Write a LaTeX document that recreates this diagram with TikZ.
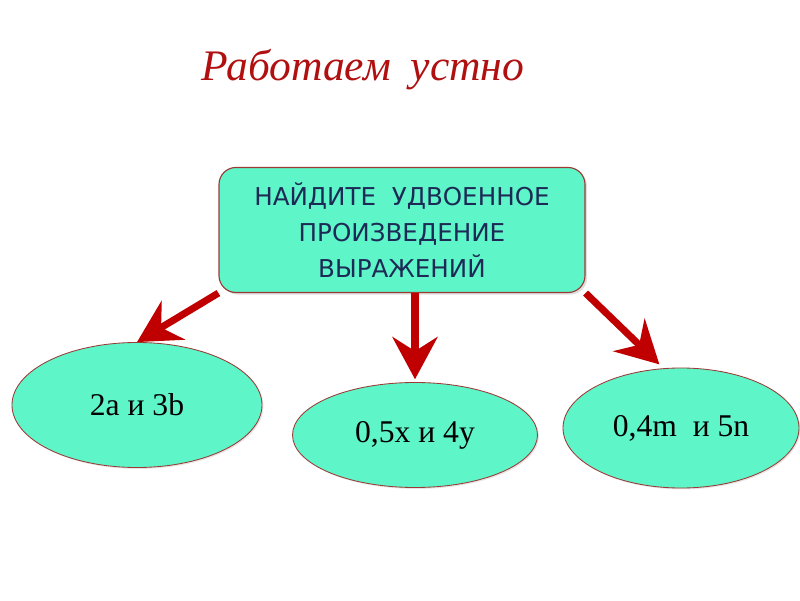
\documentclass[tikz,border=0pt]{standalone}
\usepackage{fontspec}
\setmainfont{Liberation Serif}
\newfontfamily\boxfont{DejaVu Sans}
\usetikzlibrary{shapes.geometric,arrows.meta,shadows}
\definecolor{mint}{HTML}{5EF5C8}
\definecolor{darkred}{HTML}{B01010}
\definecolor{arrowred}{HTML}{C00000}
\definecolor{rimred}{HTML}{9A3A36}
\definecolor{navy}{HTML}{1C2A55}
\tikzset{
  taskbox/.style={shape=rectangle,rounded corners=12pt,draw=rimred,line width=0.8pt,
    fill=mint,minimum width=9.15cm,minimum height=3.125cm,align=center,
    font=\boxfont\fontsize{17.5}{25.5}\selectfont,text=navy,
    drop shadow={opacity=0.25,shadow xshift=1.5pt,shadow yshift=-1.5pt}},
  pairoval/.style={shape=ellipse,draw=rimred,line width=0.6pt,fill=mint,inner sep=0pt,
    font=\fontsize{22.5}{26}\selectfont,
    drop shadow={opacity=0.2,shadow xshift=1pt,shadow yshift=-1pt}},
  bigarrow/.style={draw=arrowred,line width=5pt,-{Stealth[length=30pt,width=32pt,inset=10pt]}}
}
\begin{document}
\begin{tikzpicture}
            \useasboundingbox[fill=white] (0,0) rectangle (20,15);

            \node[text=darkred,font=\itshape\fontsize{31}{35}\selectfont] (T) at (9.07,13.25) {Работаем\hspace{0.45em}устно};

            \node[taskbox] (B) at (10.05,9.25) {НАЙДИТЕ\ \ УДВОЕННОЕ\\ПРОИЗВЕДЕНИЕ\\ ВЫРАЖЕНИЙ};

            \node[pairoval,minimum width=6.25cm,minimum height=3.125cm] (E1) at (3.425,4.875) {2a и 3b};
            \node[pairoval,minimum width=6.125cm,minimum height=2.625cm] (E2) at (10.375,4.125) {0,5x и 4y};
            \node[pairoval,minimum width=5.9cm,minimum height=3.0cm]     (E3) at (17.025,4.3) {0,4m\ \ и 5n};

            \path[bigarrow] (B.south west) -- (E1.north);
            \path[bigarrow] (E2.north |- B.south) -- ([yshift=2pt]E2.north);
            \path[bigarrow] (B.south east) -- ([yshift=3pt]E3.110);
        \end{tikzpicture}
\end{document}
